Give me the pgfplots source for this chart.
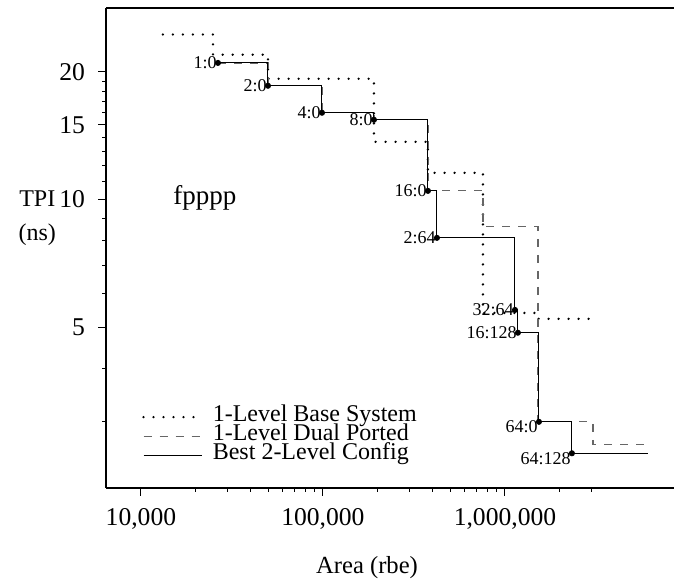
\documentclass[border=0pt]{standalone}
\usepackage{fontspec}
\setmainfont{Liberation Serif}
\usepackage{pgfplots}
\pgfplotsset{compat=1.18}
\begin{document}
\begin{tikzpicture}
\begin{axis}[
    scale only axis,
    width=284pt, height=240pt,
    xmode=log, ymode=log,
    xmin=6430, xmax=8.486e6,
    ymin=2.087, ymax=28.3,
    clip mode=individual,
    axis x line=box, axis y line=left,
    axis line style={-, line width=0.6pt},
    xtick pos=left, ytick pos=left,
    tick align=outside,
    major tick length=4pt, minor tick length=2pt,
    tick style={line width=0.5pt, black},
    xtick={1e4,1e5,1e6},
    xticklabels={{10,000},{100,000},{1,000,000}},
    minor xtick={2e4,3e4,4e4,5e4,6e4,7e4,8e4,9e4,2e5,3e5,4e5,5e5,6e5,7e5,8e5,9e5,2e6,3e6},
    ytick={5,10,15,20},
    yticklabels={5,10,15,20},
    minor ytick={3,4,6,7,8,9,11,12,13,14,16,17,18,19},
    /pgf/number format/assume math mode=true,
    ticklabel style={font=\fontsize{12.8}{15}\selectfont},
    xticklabel style={yshift=-2.5pt},
    yticklabel style={xshift=-3pt},
    xlabel={Area (rbe)},
    xlabel style={at={(axis description cs:0.4595,-0.165)}, anchor=center, font=\fontsize{12.3}{14}\selectfont},
    legend style={
        draw=none, fill=none,
        at={(axis description cs:0.0525,0.108)}, anchor=west,
        font=\fontsize{12}{14}\selectfont,
        nodes={inner sep=0.5pt, text height=6.5pt, text depth=2pt},
        row sep=0pt,
        /tikz/every odd column/.append style={column sep=4.5pt},
    },
    legend cell align={left},
    legend image code/.code={\draw[#1] (0pt,0pt) -- (29pt,0pt);},
]

% 1-Level Base System
\addplot[black, const plot, line width=1.3pt, line cap=round, dash pattern=on 0pt off 5pt] coordinates {
    (13200,24.5) (24900,21.96) (49900,19.27) (190700,13.68) (377500,11.56)
    (757000,5.40) (1517000,5.23) (3127000,5.23)
};

% 1-Level Dual Ported
\addplot[black!60, const plot, line width=0.6pt, dash pattern=on 4pt off 4pt] coordinates {
    (26500,21.0) (49900,18.55) (98800,16.02) (190700,15.42) (377500,10.48)
    (757000,8.62) (1517000,2.99) (3047000,2.64) (6110000,2.64)
};

% Best 2-Level Config
\addplot[black, const plot, line width=0.5pt] coordinates {
    (26500,21.0) (49900,18.55) (98800,16.02) (190700,15.42) (377500,10.48)
    (423000,8.12) (1135000,5.49) (1178000,4.85) (1537000,2.99) (2333000,2.52)
    (6110000,2.52)
};

\legend{1-Level Base System, 1-Level Dual Ported, Best 2-Level Config}

% configuration labels
\addplot[black, only marks, mark=*, mark size=1.3pt, forget plot,
    point meta=explicit symbolic, nodes near coords,
    nodes near coords style={anchor=east, inner sep=0.5pt, font=\fontsize{9}{10}\selectfont}]
    coordinates {
    (26500,21.0) [1:0] (49900,18.55) [2:0] (98800,16.02) [4:0] (190700,15.42) [8:0]
    (377500,10.48) [16:0] (423000,8.12) [2:64] (1135000,5.49) [32:64]
    (1178000,4.85) [16:128]
};
\addplot[black, only marks, mark=*, mark size=1.3pt, forget plot,
    point meta=explicit symbolic, nodes near coords,
    nodes near coords style={anchor=east, inner sep=0.5pt, yshift=-2.5pt, font=\fontsize{9}{10}\selectfont}]
    coordinates {
    (1537000,2.99) [64:0] (2333000,2.52) [64:128]
};

\node[align=center, font=\fontsize{12}{17}\selectfont] at (axis description cs:-0.121,0.5625) {TPI\\(ns)};
\node[font=\fontsize{13.5}{15}\selectfont] at (axis description cs:0.174,0.604) {fpppp};
\end{axis}
\pgfresetboundingbox
\path[use as bounding box] ([shift={(-53pt,-47pt)}]current axis.south west) rectangle ([shift={(0pt,4pt)}]current axis.north east);
\end{tikzpicture}
\end{document}
